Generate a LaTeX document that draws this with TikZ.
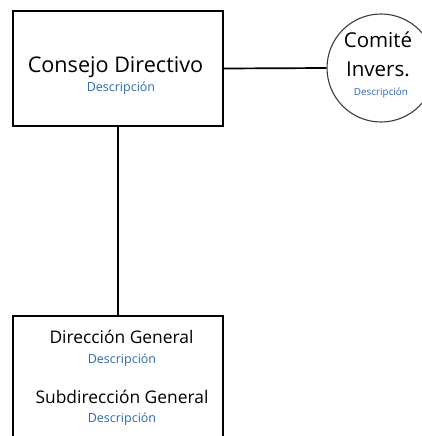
\documentclass[tikz,border=0pt]{standalone}
\usepackage{fontspec}
\setmainfont{Open Sans}
\definecolor{descblue}{RGB}{46,104,176}
\definecolor{circline}{RGB}{60,60,60}
\begin{document}
\begin{tikzpicture}[x=1pt,y=-1pt,
  box/.style={draw=black,line width=1.7pt,fill=white,inner sep=0pt,minimum width=210pt},
  circ/.style={circle,draw=circline,line width=1.1pt,fill=white,inner sep=0pt,minimum size=108pt},
  conn/.style={draw=black,line width=1.7pt},
  title/.style={inner sep=0pt,anchor=base,font=\fontsize{21.6}{24}\selectfont},
  ctitle/.style={inner sep=0pt,anchor=base,font=\fontsize{20.5}{23}\selectfont},
  sub/.style={inner sep=0pt,anchor=base,font=\fontsize{17.4}{20}\selectfont},
  desc/.style={inner sep=0pt,anchor=base,text=descblue,font=\fontsize{12.5}{14}\selectfont},
  sdesc/.style={inner sep=0pt,anchor=base,text=descblue,font=\fontsize{9.9}{11}\selectfont}]
\useasboundingbox (0,0) rectangle (422,436);
\clip (0,0) rectangle (422,436);
\node[box,minimum height=115pt] (cd) at (118,68.5) {};
\node[circ] (ci) at (381,68) {};
\node[box,minimum height=140pt] (dg) at (118,386) {};
\draw[conn] (cd.east) -- (ci.west);
\draw[conn] (cd.south) -- (dg.north);
\node[title] (t1) at (115.5,72) {Consejo Directivo};
\node[desc] (d1) at (121,92) {Descripción};
\node[ctitle] (t2) at (378,48) {Comité};
\node[ctitle] (t3) at (378,76) {Invers.};
\node[sdesc] (d2) at (381,95) {Descripción};
\node[sub] (t4) at (121.5,343) {Dirección General};
\node[desc] (d4) at (122,363) {Descripción};
\node[sub] (t5) at (122,403) {Subdirección General};
\node[desc] (d5) at (122,422) {Descripción};
\end{tikzpicture}
\end{document}
